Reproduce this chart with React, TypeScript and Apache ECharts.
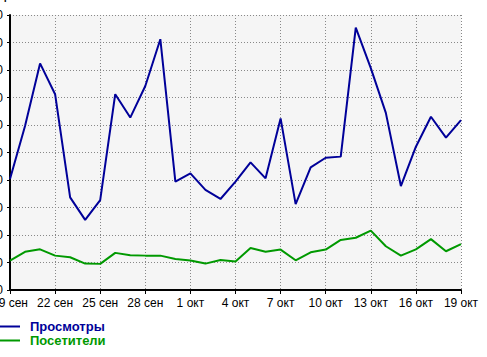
import React, { useEffect, useRef } from "react";
import * as echarts from "echarts";

const categories = [
  "19 сен", "20 сен", "21 сен", "22 сен", "23 сен", "24 сен", "25 сен", "26 сен", "27 сен", "28 сен",
  "29 сен", "30 сен", "1 окт", "2 окт", "3 окт", "4 окт", "5 окт", "6 окт", "7 окт", "8 окт",
  "9 окт", "10 окт", "11 окт", "12 окт", "13 окт", "14 окт", "15 окт", "16 окт", "17 окт", "18 окт", "19 окт",
];

const views = [
  404, 596, 824, 712, 337, 255, 327, 712, 627, 742,
  912, 394, 424, 364, 331, 394, 464, 406, 624, 312,
  446, 481, 485, 954, 807, 644, 378, 521, 630, 554, 618,
];

const visitors = [
  107, 139, 148, 125, 119, 96, 95, 135, 126, 125,
  125, 113, 107, 96, 109, 104, 153, 139, 147, 108,
  137, 147, 182, 190, 216, 159, 125, 148, 185, 141, 167,
];

const yMin = 0;
const yMax = 1000;
const yStep = 100;

const BLUE = "#000099";
const GREEN = "#009900";
const FONT = "'Liberation Sans', Arial, sans-serif";

export default function App() {
  const ref = useRef<HTMLDivElement>(null);
  useEffect(() => {
    if (!ref.current) return;
    const chart = echarts.init(ref.current, null, { renderer: "svg" });
    chart.setOption({
      animation: false,
      backgroundColor: "#ffffff",
      textStyle: { fontFamily: FONT },
      grid: {
        left: 10,
        right: 26,
        top: 15,
        bottom: 67,
        show: true,
        backgroundColor: "#f5f5f5",
        borderWidth: 0,
        containLabel: false,
        outerBoundsMode: "none",
      },
      graphic: [
        {
          type: "text",
          left: -30,
          top: -10,
          style: { text: "Посещаемость", font: `bold 11px ${FONT}`, fill: "#000" },
        },
      ],
      legend: {
        orient: "vertical",
        left: 0,
        top: 320,
        padding: 0,
        itemGap: 1,
        itemWidth: 20,
        itemHeight: 2,
        icon: "rect",
        textStyle: { fontSize: 13, fontWeight: "bold", fontFamily: FONT, padding: [0, 0, 0, 5], lineHeight: 12 },
        data: [
          { name: "Просмотры", textStyle: { color: BLUE } },
          { name: "Посетители", textStyle: { color: GREEN } },
        ],
      },
      xAxis: {
        type: "category",
        data: categories,
        boundaryGap: false,
        axisLine: { show: true, lineStyle: { color: "#000", width: 2 } },
        axisTick: { show: true, interval: 2, length: 4, lineStyle: { color: "#000", width: 1 } },
        axisLabel: { interval: 2, color: "#000", fontSize: 12, fontFamily: FONT, margin: 7 },
        splitLine: {
          show: true,
          interval: 2,
          lineStyle: { color: "#888", type: [1, 2], width: 1 },
        },
      },
      yAxis: {
        type: "value",
        min: yMin,
        max: yMax,
        interval: yStep,
        axisLine: { show: true, lineStyle: { color: "#000", width: 2 } },
        axisTick: { show: true, length: 3, lineStyle: { color: "#000", width: 1 } },
        axisLabel: { color: "#000", fontSize: 12, fontFamily: FONT, margin: 7 },
        splitLine: { show: true, lineStyle: { color: "#888", type: [1, 2], width: 1 } },
      },
      series: [
        {
          name: "Просмотры",
          type: "line",
          data: views,
          symbol: "none",
          itemStyle: { color: BLUE },
          lineStyle: { color: BLUE, width: 2 },
        },
        {
          name: "Посетители",
          type: "line",
          data: visitors,
          symbol: "none",
          itemStyle: { color: GREEN },
          lineStyle: { color: GREEN, width: 2 },
        },
      ],
    });
    return () => chart.dispose();
  }, []);
  return <div ref={ref} style={{ width: 487, height: 357, position: "absolute", left: 0, top: 0 }} />;
}
